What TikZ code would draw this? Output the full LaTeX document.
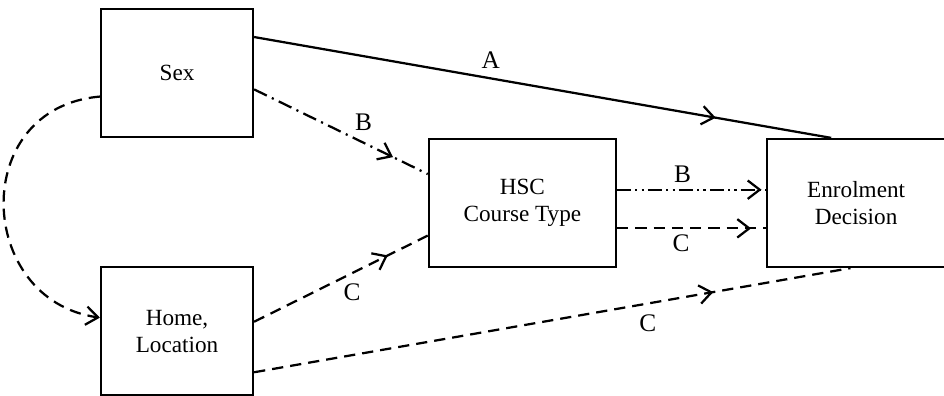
\documentclass[tikz,border=0pt]{standalone}
\usepackage{fontspec}
\setmainfont{Liberation Serif}
\usetikzlibrary{positioning, arrows.meta, decorations.markings}
\tikzset{
  varbox/.style     = {draw, line width=1.6pt, minimum height=3.2cm, align=center, font=\fontsize{16.5}{19}\selectfont},
  link/.style       = {line width=1.6pt},
  barbtip/.tip      = {Straight Barb[length=3mm, width=4.6mm, line width=1.6pt]},
  midarrow/.style   = {postaction={decorate}, decoration={markings, mark=at position #1 with {\arrow{barbtip}}}},
  dashdot/.style    = {dash pattern=on 10pt off 4pt on 1.5pt off 4pt},
  dashdotdot/.style = {dash pattern=on 10pt off 3pt on 1.5pt off 3pt on 1.5pt off 3pt},
  longdash/.style   = {dash pattern=on 8pt off 5pt},
  lbl/.style        = {font=\fontsize{18}{20}\selectfont, inner sep=1pt}
}

\begin{document}
\begin{tikzpicture}
  \useasboundingbox (0,0) rectangle (23.6,9.9);

  \node[varbox, minimum width=3.8cm] (sex) at (4.425,8.075) {Sex};
  \node[varbox, minimum width=3.8cm, below=3.2cm of sex] (home) {Home,\\ Location};
  \node[varbox, minimum width=4.675cm] (hsc) at (13.06,4.825) {HSC\\ Course Type};
  \node[varbox, minimum width=4.45cm, right=3.725cm of hsc] (enrol) {Enrolment\\ Decision};

  % direct paths
  \draw[link, midarrow=0.8] (sex.25) -- node[lbl, pos=0.41, above=5pt] (labA) {A} (enrol.111);
  \draw[link, longdash, midarrow=0.77] (home.-28) -- node[lbl, pos=0.66, below=6pt] (labC3) {C} (enrol.265);

  % via course type
  \draw[link, dashdot, midarrow=0.8] (sex.-12) -- node[lbl, pos=0.55, above right=3pt] (labB1) {B} (hsc.163);
  \draw[link, longdash, midarrow=0.77] (home.7) -- node[lbl, pos=0.49, below right=2pt] (labC1) {C} (hsc.199);
  \draw[link, dashdotdot, midarrow=0.97] (hsc.8.5) -- node[lbl, pos=0.44, above=3pt] (labB2) {B} (hsc.8.5 -| enrol.west);
  \draw[link, longdash, midarrow=0.9] (hsc.-15) -- node[lbl, pos=0.43, below=3pt] (labC2) {C} (hsc.-15 -| enrol.west);

  % sex to home location
  \draw[link, longdash, -barbtip] (sex.197) .. controls (-0.8,7.2) and (-0.6,2.4) .. (home.170);
\end{tikzpicture}
\end{document}
